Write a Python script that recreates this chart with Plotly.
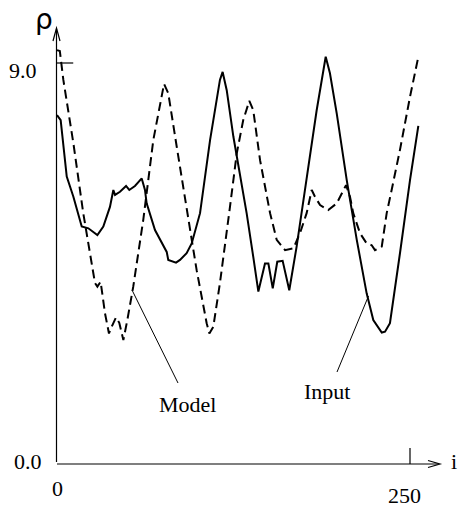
import plotly.graph_objects as go

# ---- data ----
input_i = [0, 2.6, 6.9, 11.6, 17.5, 22.2, 28.6, 32.8, 37.5, 39.9, 41.1, 44.6, 48.9, 51.2, 55.2,
           60, 62.3, 63.5, 69.4, 77.7, 78.8, 84.3, 87.1, 91.8, 95.4, 101.3, 108.4, 115.4, 117.3,
           120.2, 124.9, 129.6, 134.3, 139.0, 142.6, 147.3, 149.7, 152.8, 156.0, 159.8, 164.5,
           169.7, 176.8, 183.9, 190.3, 193.3, 198.1, 205.2, 212.3, 219.3, 224.0, 230.0, 232.3,
           235.8, 242.9, 250.0, 255.9]
input_rho = [7.83, 7.72, 6.45, 6.0, 5.33, 5.29, 5.14, 5.33, 5.77, 6.15, 6.04, 6.11, 6.24, 6.15, 6.24,
             6.41, 6.15, 5.85, 5.25, 4.76, 4.58, 4.52, 4.58, 4.73, 4.95, 5.63, 7.27, 8.62, 8.80,
             8.39, 7.35, 6.52, 5.63, 4.65, 3.87, 4.50, 4.50, 3.94, 4.54, 4.56, 3.90,
             4.88, 6.37, 7.94, 9.14, 8.77, 7.87, 6.37, 5.03, 3.83, 3.23, 2.95, 2.97,
             3.16, 4.73, 6.37, 7.59]

model_i = [0, 2, 4.5, 11.6, 18.6, 23.4, 26.9, 28.6, 30.9, 34.0, 36.8, 38.7, 41.8, 44.1, 47.0,
           49.8, 54.0, 61.1, 68.2, 75.8, 78.8, 84.8, 91.8, 98.9, 106.0, 107.9, 110.7, 115.4,
           122.5, 127.3, 131.9, 136.2, 139.0, 143.8, 150.9, 155.6, 161.5, 167.4, 172.1, 176.8,
           180.4, 182.7, 186.3, 192.1, 198.1, 204.7, 207.5, 209.8, 214.6, 219.3, 222.9, 225.2,
           230.0, 233.5, 237.0, 242.9, 250, 255.9]
model_rho = [9.29, 9.27, 8.62, 7.20, 5.63, 4.73, 4.06, 3.98, 4.09, 3.38, 2.93, 3.08, 3.29, 3.17, 2.78,
             3.23, 3.98, 5.48, 7.27, 8.53, 8.32, 7.12, 5.77, 4.35, 3.16, 2.93, 3.08, 4.06,
             5.77, 6.97, 7.72, 8.15, 7.94, 6.82, 5.63, 5.03, 4.80, 4.84, 5.18, 5.63,
             6.15, 6.00, 5.81, 5.70, 5.85, 6.26, 6.00, 5.63, 5.18, 4.95, 4.91, 4.80,
             4.88, 5.63, 6.15, 7.05, 8.24, 9.14]

y_tick_labels = ["0.0", "9.0"]
x_tick_labels = ["0", "250"]

W, H = 460, 508


def px(x):
    return x / W


def py(y):
    return 1 - y / H


fig = go.Figure()
fig.add_trace(go.Scatter(x=input_i, y=input_rho, mode="lines", name="Input",
                         line=dict(color="black", width=2)))
fig.add_trace(go.Scatter(x=model_i, y=model_rho, mode="lines", name="Model",
                         line=dict(color="black", width=2, dash="9px,5px")))

# data range chosen so 0->57px, 250->410px, rho 0->464px, 9->63px
sx = (410 - 57) / 250.0
sy = (464 - 63) / 9.0
x0 = -57 / sx
x1 = x0 + W / sx
y0 = -(H - 464) / sy
y1 = y0 + H / sy

shapes = []
lw = dict(color="black", width=1.2)
# axes lines
shapes.append(dict(type="line", xref="paper", yref="paper", x0=px(57), y0=py(464), x1=px(439), y1=py(464), line=lw))
shapes.append(dict(type="line", xref="paper", yref="paper", x0=px(56.5), y0=py(462), x1=px(56.5), y1=py(29), line=lw))
# arrow heads
shapes.append(dict(type="path", xref="paper", yref="paper",
                   path=f"M {px(428)},{py(460.5)} L {px(440)},{py(464)} L {px(428)},{py(467.5)}",
                   line=lw))
shapes.append(dict(type="path", xref="paper", yref="paper",
                   path=f"M {px(53)},{py(41)} L {px(56.5)},{py(28)} L {px(60)},{py(41)}",
                   line=lw))
# ticks
shapes.append(dict(type="line", xref="x", yref="y", x0=0, y0=9.0, x1=11.5, y1=9.0, line=lw))
shapes.append(dict(type="line", xref="x", yref="y", x0=250, y0=0, x1=250, y1=0.36, line=lw))
# leader lines
shapes.append(dict(type="line", xref="paper", yref="paper", x0=px(132), y0=py(290), x1=px(178), y1=py(383),
                   line=dict(color="black", width=1)))
shapes.append(dict(type="line", xref="paper", yref="paper", x0=px(368.5), y0=py(296), x1=px(337), y1=py(372),
                   line=dict(color="black", width=1)))

serif = "Liberation Serif"
ann = []


def txt(t, x, y, size=22, family=serif, xanchor="center"):
    ann.append(dict(text=t, xref="paper", yref="paper", x=px(x), y=py(y), showarrow=False,
                    xanchor=xanchor, yanchor="middle", font=dict(family=family, size=size, color="black")))


txt(y_tick_labels[1], 23, 71)
txt(y_tick_labels[0], 28, 461)
txt(x_tick_labels[0], 57, 488)
txt(x_tick_labels[1], 404, 495)
txt("i", 454, 461)
txt("ρ", 44, 19, size=28, family="DejaVu Sans")
txt("Model", 187, 404)
txt("Input", 327, 391)

fig.update_layout(
    width=W, height=H, autosize=False,
    margin=dict(l=0, r=0, t=0, b=0),
    paper_bgcolor="white", plot_bgcolor="white",
    showlegend=False,
    xaxis=dict(range=[x0, x1], visible=False, fixedrange=True),
    yaxis=dict(range=[y0, y1], visible=False, fixedrange=True),
    shapes=shapes, annotations=ann,
)

fig.write_html(
    "out.html",
    config={"displayModeBar": False},
    post_script="document.body.style.margin='0';document.body.style.overflow='hidden';",
)
